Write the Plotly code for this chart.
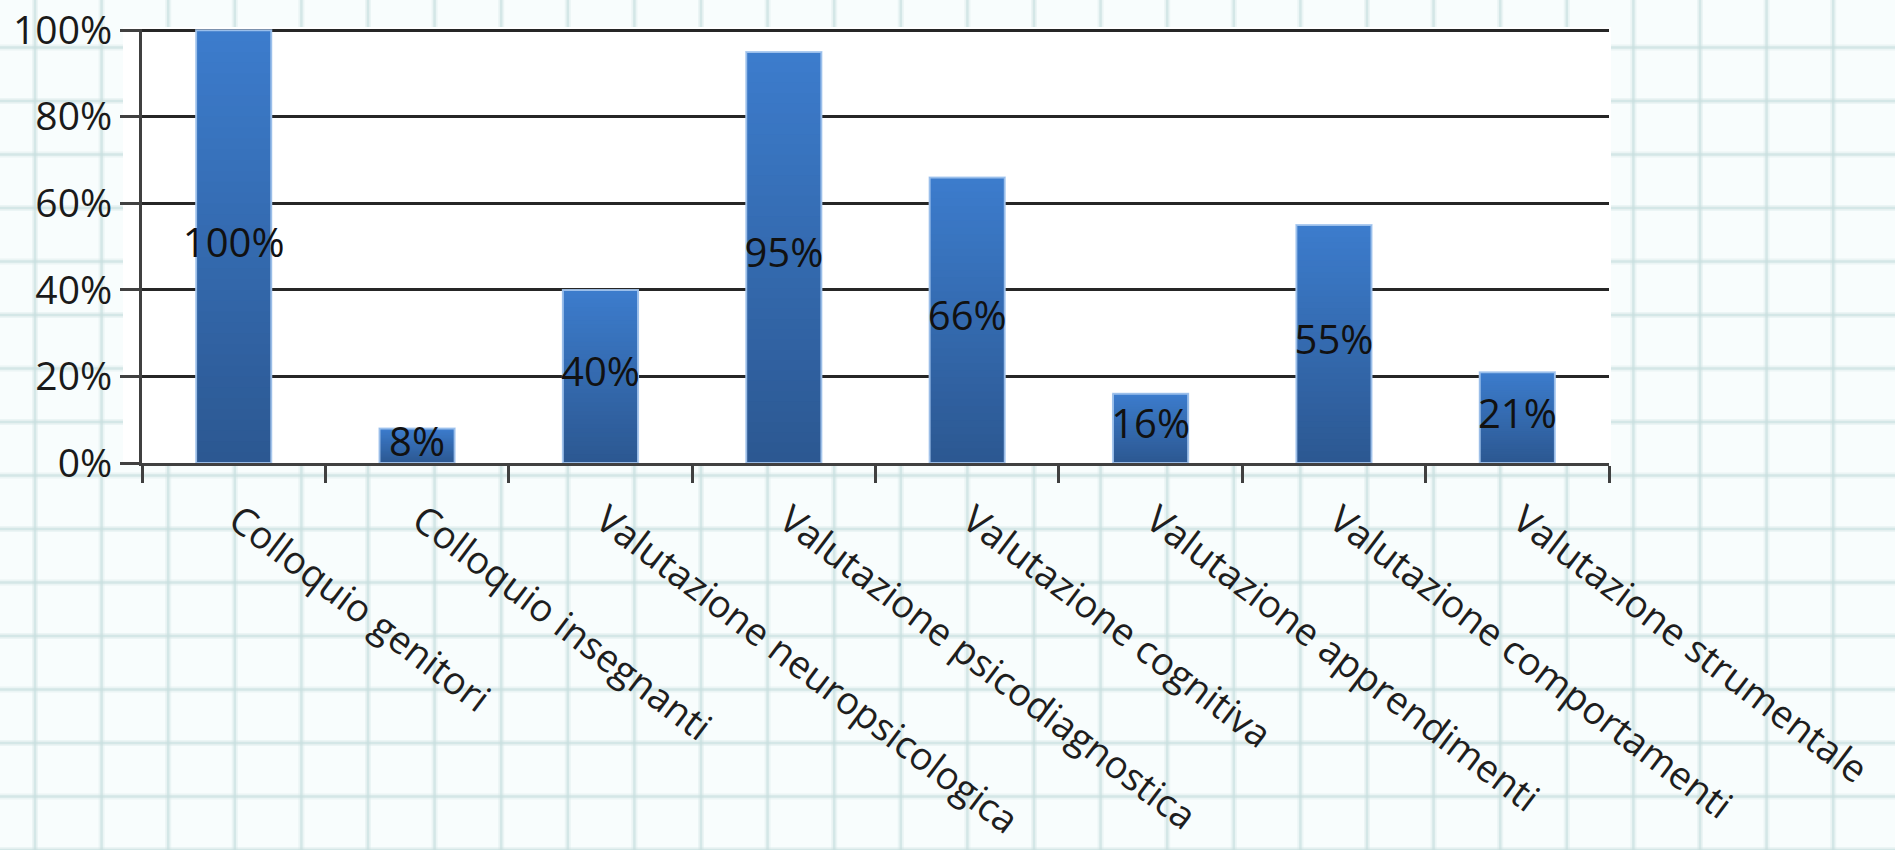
import plotly.graph_objects as go

# ---- data -------------------------------------------------------------
categories = [
    "Colloquio genitori",
    "Colloquio insegnanti",
    "Valutazione neuropsicologica",
    "Valutazione psicodiagnostica",
    "Valutazione cognitiva",
    "Valutazione apprendimenti",
    "Valutazione comportamenti",
    "Valutazione strumentale",
]
shares = [1.00, 0.08, 0.40, 0.95, 0.66, 0.16, 0.55, 0.21]
y_tick_values = [0, 0.2, 0.4, 0.6, 0.8, 1.0]
y_tick_labels = ["0%", "20%", "40%", "60%", "80%", "100%"]

# ---- page geometry ----------------------------------------------------
W, H = 1895, 850
ML, MR, MT, MB = 142, 286, 29, 387
PW, PH = W - ML - MR, H - MT - MB
FONT = "Open Sans"


def paper_x(px):
    return (px - ML) / PW


def paper_y(py):
    return (H - MB - py) / PH


# ---- graph-paper backdrop ---------------------------------------------
shapes = []
grid_x = [35 + 66.6 * k for k in range(29)]
grid_y = [315 + 53.5 * k for k in range(-6, 11)]
for width, color in ((6, "rgba(215,232,232,0.4)"), (2.5, "rgba(200,222,222,0.65)")):
    for gx in grid_x:
        shapes.append(dict(type="line", xref="paper", yref="paper", layer="below",
                           x0=paper_x(gx), x1=paper_x(gx), y0=paper_y(-5), y1=paper_y(H + 5),
                           line=dict(color=color, width=width)))
    for gy in grid_y:
        shapes.append(dict(type="line", xref="paper", yref="paper", layer="below",
                           x0=paper_x(-5), x1=paper_x(W + 5), y0=paper_y(gy), y1=paper_y(gy),
                           line=dict(color=color, width=width)))
# white chart panel
shapes.append(dict(type="rect", xref="paper", yref="paper", layer="below",
                   x0=paper_x(123), x1=paper_x(1611), y0=paper_y(463), y1=paper_y(27),
                   fillcolor="white", line=dict(width=0)))

fig = go.Figure()

# ---- bars with a vertical gradient (dark at base, light at top) -------
BAR_W = 0.41
N = 40
dark = (44, 88, 146)
light = (60, 124, 204)
for k in range(N):
    f = k / (N - 1)
    c = tuple(round(d + (l - d) * f) for d, l in zip(dark, light))
    fig.add_trace(go.Bar(
        x=categories,
        y=[v * (1 - k / N) for v in shares],
        base=[v * k / N for v in shares],
        width=BAR_W,
        marker=dict(color=f"rgb{c}", line=dict(width=0)),
        hoverinfo="skip",
        showlegend=False,
    ))

# light bevel outline
fig.add_trace(go.Bar(
    x=categories, y=shares, width=BAR_W,
    marker=dict(color="rgba(0,0,0,0)", line=dict(color="rgba(165,198,238,0.9)", width=2)),
    hoverinfo="skip", showlegend=False,
))

# value labels centred in each bar
fig.add_trace(go.Scatter(
    x=categories,
    y=[v / 2 for v in shares],
    mode="text",
    text=[f"{round(v * 100)}%" for v in shares],
    textposition="middle center",
    textfont=dict(family=FONT, size=40, color="#111111"),
    cliponaxis=False,
    hoverinfo="skip",
    showlegend=False,
))

fig.update_layout(
    width=W, height=H, autosize=False,
    margin=dict(l=ML, r=MR, t=MT, b=MB, pad=0),
    barmode="overlay",
    paper_bgcolor="#f8fdfd",
    plot_bgcolor="rgba(0,0,0,0)",
    shapes=shapes,
    showlegend=False,
    font=dict(family=FONT, color="#1a1a1a"),
)

fig.update_xaxes(
    type="category",
    range=[-0.5, 7.5],
    tickson="boundaries",
    ticks="outside", ticklen=17, tickwidth=3, tickcolor="#404040",
    showline=True, linecolor="#404040", linewidth=3,
    showgrid=False, zeroline=False,
    tickangle=37,
    ticklabelstandoff=17,
    ticklabelshift=4,
    tickfont=dict(family=FONT, size=38, color="#1e1e1e"),
    automargin=False,
)

fig.update_yaxes(
    range=[0, 1.003],
    tickvals=y_tick_values, ticktext=y_tick_labels,
    ticks="outside", ticklen=19, tickwidth=3, tickcolor="#404040",
    showline=True, linecolor="#404040", linewidth=3,
    showgrid=True, gridcolor="#262626", gridwidth=3,
    zeroline=False,
    tickfont=dict(family=FONT, size=39, color="#1a1a1a"),
    automargin=False,
)

fig.write_html("out.html")
